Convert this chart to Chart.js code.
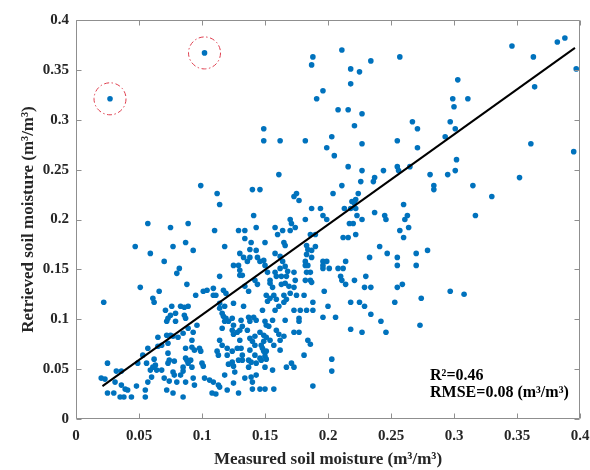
<!DOCTYPE html>
<html>
<head>
<meta charset="utf-8">
<script src="https://cdn.jsdelivr.net/npm/chart.js@4.4.0/dist/chart.umd.min.js"></script>
<style>
html,body{margin:0;padding:0;background:#ffffff;}
#wrap{width:590px;height:470px;position:relative;}
</style>
</head>
<body>
<div id="wrap"><canvas id="c" width="590" height="470"></canvas></div>
<script>
// Measured soil moisture (x) and retrieved soil moisture (y), m3/m3
const measured = [
0.027,0.102,0.149,0.149,0.162,0.182,0.203,0.199,0.205,0.188,
0.187,0.196,0.191,0.208,0.211,0.218,0.225,0.218,0.234,0.257,
0.216,0.227,0.221,0.227,0.255,0.267,0.271,0.271,0.293,0.297,
0.301,0.299,0.300,0.303,0.311,0.346,0.363,0.364,0.361,0.382,
0.388,0.397,0.395,0.161,0.216,0.227,0.255,0.256,0.265,0.302,
0.301,0.244,0.099,0.112,0.114,0.140,0.146,0.141,0.211,0.204,
0.226,0.224,0.236,0.237,0.281,0.284,0.284,0.295,0.315,0.317,
0.330,0.352,0.170,0.171,0.173,0.175,0.177,0.182,0.187,0.194,
0.196,0.199,0.213,0.219,0.221,0.222,0.218,0.222,0.223,0.237,
0.245,0.246,0.260,0.261,0.263,0.057,0.075,0.089,0.110,0.129,
0.134,0.134,0.143,0.158,0.160,0.164,0.170,0.174,0.186,0.190,
0.227,0.217,0.220,0.222,0.212,0.216,0.257,0.264,0.260,0.139,
0.047,0.077,0.087,0.093,0.118,0.165,0.166,0.150,0.138,0.143,
0.183,0.184,0.190,0.187,0.241,0.279,0.059,0.070,0.082,0.080,
0.130,0.133,0.136,0.138,0.144,0.149,0.150,0.158,0.162,0.164,
0.183,0.187,0.182,0.182,0.184,0.196,0.199,0.196,0.201,0.196,
0.208,0.212,0.214,0.210,0.211,0.221,0.230,0.233,0.247,0.255,
0.255,0.270,0.270,0.183,0.186,0.182,0.186,0.114,0.125,0.129,
0.130,0.130,0.132,0.146,0.162,0.166,0.168,0.167,0.163,0.173,
0.174,0.158,0.159,0.152,0.154,0.142,0.051,0.066,0.061,0.062,
0.022,0.088,0.095,0.101,0.104,0.109,0.109,0.111,0.117,0.119,
0.134,0.137,0.125,0.133,0.148,0.151,0.154,0.152,0.159,0.154,
0.156,0.157,0.165,0.175,0.144,0.163,0.166,0.169,0.170,0.173,
0.181,0.187,0.214,0.229,0.234,0.255,0.259,0.197,0.297,0.308,
0.188,0.188,0.183,0.178,0.200,0.218,0.225,0.229,0.253,0.274,
0.173,0.071,0.076,0.075,0.079,0.083,0.086,0.089,0.116,0.117,
0.118,0.119,0.116,0.114,0.114,0.118,0.121,0.124,0.125,0.131,
0.132,0.165,0.167,0.072,0.073,0.079,0.086,0.087,0.089,0.093,
0.092,0.096,0.085,0.081,0.072,0.075,0.077,0.065,0.124,0.125,
0.128,0.130,0.130,0.137,0.138,0.136,0.138,0.140,0.146,0.149,
0.149,0.153,0.141,0.143,0.151,0.154,0.157,0.159,0.161,0.150,
0.151,0.156,0.158,0.161,0.166,0.177,0.177,0.173,0.177,0.196,
0.206,0.218,0.227,0.242,0.246,0.273,0.234,0.184,0.186,0.114,
0.116,0.120,0.120,0.142,0.147,0.148,0.146,0.162,0.165,0.068,
0.073,0.087,0.092,0.094,0.098,0.099,0.073,0.112,0.113,0.128,
0.131,0.138,0.142,0.132,0.142,0.149,0.151,0.162,0.057,0.053,
0.065,0.049,0.056,0.061,0.064,0.025,0.032,0.036,0.062,0.063,
0.059,0.074,0.073,0.078,0.087,0.088,0.091,0.089,0.092,0.100,
0.101,0.121,0.124,0.125,0.129,0.132,0.137,0.139,0.137,0.124,
0.150,0.151,0.167,0.171,0.173,0.181,0.203,0.203,0.143,0.147,
0.150,0.156,0.126,0.139,0.118,0.020,0.023,0.031,0.036,0.039,
0.041,0.025,0.030,0.035,0.038,0.044,0.048,0.055,0.055,0.057,
0.060,0.068,0.070,0.074,0.077,0.078,0.072,0.077,0.085,0.080,
0.087,0.093,0.094,0.083,0.085,0.085,0.102,0.109,0.113,0.114,
0.108,0.111,0.120,0.129,0.125,0.134,0.140,0.140,0.143,0.146,
0.150,0.157,0.188,0.106
];
const retrieved = [
0.321,0.367,0.291,0.279,0.279,0.279,0.283,0.272,0.264,0.363,
0.355,0.329,0.321,0.310,0.370,0.351,0.348,0.336,0.359,0.363,
0.310,0.306,0.294,0.276,0.279,0.298,0.291,0.272,0.283,0.298,
0.291,0.321,0.313,0.340,0.321,0.374,0.363,0.333,0.276,0.378,
0.382,0.351,0.268,0.245,0.253,0.249,0.253,0.249,0.253,0.260,
0.249,0.249,0.234,0.226,0.215,0.230,0.230,0.204,0.234,0.226,
0.238,0.226,0.238,0.242,0.245,0.234,0.230,0.245,0.234,0.204,
0.223,0.242,0.200,0.196,0.223,0.226,0.219,0.200,0.211,0.211,
0.204,0.200,0.211,0.218,0.216,0.220,0.211,0.211,0.204,0.207,
0.204,0.200,0.215,0.200,0.204,0.196,0.192,0.196,0.189,0.189,
0.189,0.181,0.192,0.192,0.185,0.189,0.189,0.192,0.185,0.185,
0.200,0.196,0.196,0.185,0.182,0.182,0.189,0.192,0.182,0.177,
0.173,0.173,0.177,0.169,0.173,0.177,0.174,0.177,0.170,0.169,
0.174,0.170,0.173,0.169,0.173,0.169,0.166,0.158,0.151,0.146,
0.166,0.162,0.158,0.162,0.162,0.159,0.154,0.166,0.163,0.158,
0.165,0.162,0.158,0.154,0.154,0.158,0.158,0.154,0.151,0.151,
0.151,0.151,0.158,0.143,0.139,0.139,0.143,0.162,0.166,0.162,
0.154,0.166,0.154,0.147,0.147,0.139,0.139,0.143,0.154,0.154,
0.149,0.144,0.144,0.158,0.151,0.153,0.148,0.143,0.143,0.147,
0.139,0.147,0.143,0.147,0.139,0.139,0.132,0.128,0.121,0.117,
0.117,0.135,0.124,0.128,0.129,0.131,0.124,0.124,0.129,0.126,
0.133,0.128,0.116,0.113,0.109,0.124,0.121,0.118,0.120,0.136,
0.132,0.124,0.124,0.124,0.135,0.135,0.136,0.133,0.126,0.132,
0.124,0.137,0.135,0.132,0.132,0.132,0.135,0.128,0.128,0.125,
0.117,0.109,0.109,0.109,0.113,0.117,0.117,0.113,0.117,0.121,
0.109,0.109,0.113,0.104,0.106,0.113,0.112,0.113,0.106,0.103,
0.098,0.101,0.091,0.116,0.111,0.113,0.098,0.101,0.094,0.099,
0.093,0.117,0.120,0.098,0.101,0.098,0.104,0.101,0.091,0.087,
0.079,0.094,0.086,0.082,0.084,0.084,0.083,0.082,0.089,0.085,
0.087,0.089,0.079,0.102,0.098,0.089,0.081,0.078,0.087,0.084,
0.078,0.093,0.102,0.099,0.082,0.079,0.074,0.089,0.085,0.098,
0.094,0.099,0.109,0.113,0.099,0.101,0.098,0.087,0.087,0.102,
0.102,0.090,0.087,0.098,0.087,0.094,0.105,0.079,0.075,0.079,
0.074,0.071,0.064,0.083,0.074,0.071,0.061,0.079,0.083,0.074,
0.076,0.071,0.072,0.069,0.071,0.068,0.066,0.068,0.064,0.071,
0.071,0.069,0.064,0.064,0.074,0.068,0.068,0.069,0.071,0.064,
0.073,0.056,0.056,0.052,0.049,0.056,0.048,0.048,0.060,0.054,
0.049,0.059,0.056,0.058,0.061,0.059,0.059,0.056,0.052,0.056,
0.053,0.055,0.057,0.053,0.059,0.059,0.059,0.057,0.052,0.068,
0.052,0.060,0.052,0.056,0.052,0.064,0.060,0.048,0.056,0.059,
0.063,0.049,0.047,0.042,0.044,0.041,0.040,0.037,0.034,0.030,
0.029,0.026,0.026,0.022,0.022,0.022,0.033,0.029,0.022,0.037,
0.042,0.049,0.041,0.038,0.047,0.044,0.029,0.026,0.022,0.037,
0.037,0.041,0.034,0.044,0.048,0.052,0.041,0.037,0.034,0.032,
0.026,0.025,0.029,0.026,0.036,0.041,0.030,0.037,0.044,0.030,
0.030,0.030,0.033,0.039
];
// Fitted regression line end points
const fitX = [0.021, 0.396];
const fitY = [0.033, 0.372];
// Circled outliers
const circledX = [0.027, 0.102];
const circledY = [0.321, 0.367];
// Ticks
const tickValues = [0, 0.05, 0.1, 0.15, 0.2, 0.25, 0.3, 0.35, 0.4];
const xTickLabels = ['0', '0.05', '0.1', '0.15', '0.2', '0.25', '0.3', '0.35', '0.4'];
const yTickLabels = ['0', '0.05', '0.1', '0.15', '0.2', '0.25', '0.3', '0.35', '0.4'];
// Texts
const xTitle = 'Measured soil moisture (m\u00B3/m\u00B3)';
const yTitle = 'Retrieved soil moisture (m\u00B3/m\u00B3)';
const statLines = ['R\u00B2=0.46', 'RMSE=0.08 (m\u00B3/m\u00B3)'];

const scatterData = measured.map((x, i) => ({x: x, y: retrieved[i]}));
const fitData = fitX.map((x, i) => ({x: x, y: fitY[i]}));

const SERIF = '"Liberation Serif", "Times New Roman", serif';

const framePlugin = {
  id: 'frameTicks',
  afterDatasetsDraw(chart, args, opts) {
    const {ctx, chartArea: a} = chart;
    const xs = chart.scales.x, ys = chart.scales.y;
    ctx.save();
    ctx.strokeStyle = opts.color;
    ctx.lineWidth = 1;
    ctx.setLineDash([]);
    ctx.beginPath();
    const L = Math.round(a.left) + 0.5, R = Math.round(a.right) - 0.5;
    const T = Math.round(a.top) + 0.5, B = Math.round(a.bottom) - 0.5;
    ctx.rect(L, T, R - L, B - T);
    const len = opts.tickLength;
    tickValues.forEach(v => {
      const px = Math.round(xs.getPixelForValue(v)) + 0.5;
      ctx.moveTo(px, B); ctx.lineTo(px, B - len);
      ctx.moveTo(px, T); ctx.lineTo(px, T + len);
      const py = Math.round(ys.getPixelForValue(v)) + 0.5;
      ctx.moveTo(L, py); ctx.lineTo(L + len, py);
      ctx.moveTo(R, py); ctx.lineTo(R - len, py);
    });
    ctx.stroke();
    ctx.restore();
  }
};

const annotatePlugin = {
  id: 'annotate',
  afterDatasetsDraw(chart, args, opts) {
    const {ctx} = chart;
    const xs = chart.scales.x, ys = chart.scales.y;
    ctx.save();
    ctx.strokeStyle = opts.circleColor;
    ctx.lineWidth = 1;
    ctx.setLineDash([5, 2.5, 1.5, 2.5]);
    circledX.forEach((x, i) => {
      const px = xs.getPixelForValue(x), py = ys.getPixelForValue(circledY[i]);
      ctx.beginPath();
      ctx.arc(px, py, opts.circleRadius, 0, Math.PI * 2);
      ctx.stroke();
    });
    ctx.setLineDash([]);
    ctx.fillStyle = '#000000';
    ctx.font = 'bold 16px ' + SERIF;
    ctx.textAlign = 'left';
    ctx.textBaseline = 'alphabetic';
    const tx = xs.getPixelForValue(opts.textX);
    statLines.forEach((s, i) => {
      ctx.fillText(s, tx, ys.getPixelForValue(opts.textY[i]));
    });
    ctx.restore();
  }
};

new Chart(document.getElementById('c'), {
  type: 'scatter',
  data: {
    datasets: [
      {
        type: 'line',
        data: fitData,
        borderColor: '#000000',
        borderWidth: 2,
        pointRadius: 0,
        fill: false,
        showLine: true
      },
      {
        type: 'scatter',
        data: scatterData,
        backgroundColor: '#0072BD',
        borderWidth: 0,
        pointRadius: 2.8,
        pointHoverRadius: 2.8
      }
    ]
  },
  options: {
    responsive: false,
    devicePixelRatio: 1,
    animation: false,
    events: [],
    layout: {padding: {left: 18, right: 10, top: 20, bottom: 0}},
    plugins: {
      legend: {display: false},
      tooltip: {enabled: false},
      frameTicks: {color: '#8f8f8f', tickLength: 5},
      annotate: {circleColor: 'rgb(222,62,78)', circleRadius: 16, textX: 0.281, textY: [0.039, 0.0225]}
    },
    scales: {
      x: {
        type: 'linear',
        min: 0, max: 0.4,
        afterBuildTicks: s => { s.ticks = tickValues.map(v => ({value: v})); },
        ticks: {
          callback: (v, i) => xTickLabels[i],
          font: {family: SERIF, size: 15, weight: 'bold'},
          color: '#262626',
          padding: 8,
          maxRotation: 0,
          autoSkip: false
        },
        grid: {display: false, drawTicks: false},
        border: {display: false},
        title: {
          display: true,
          text: xTitle,
          font: {family: SERIF, size: 17, weight: 'bold'},
          color: '#262626',
          padding: 0
        },
        afterFit: s => { s.height = 51; s.paddingRight = 0; s.paddingLeft = 0; }
      },
      y: {
        type: 'linear',
        min: 0, max: 0.4,
        afterBuildTicks: s => { s.ticks = tickValues.map(v => ({value: v})); },
        ticks: {
          callback: (v, i) => yTickLabels[i],
          font: {family: SERIF, size: 15, weight: 'bold'},
          color: '#262626',
          padding: 7,
          autoSkip: false
        },
        grid: {display: false, drawTicks: false},
        border: {display: false},
        title: {
          display: true,
          text: yTitle,
          font: {family: SERIF, size: 17, weight: 'bold'},
          color: '#262626',
          padding: 0
        },
        afterFit: s => { s.width = 58; s.paddingTop = 0; s.paddingBottom = 0; }
      }
    }
  },
  plugins: [framePlugin, annotatePlugin]
});
</script>
</body>
</html>
